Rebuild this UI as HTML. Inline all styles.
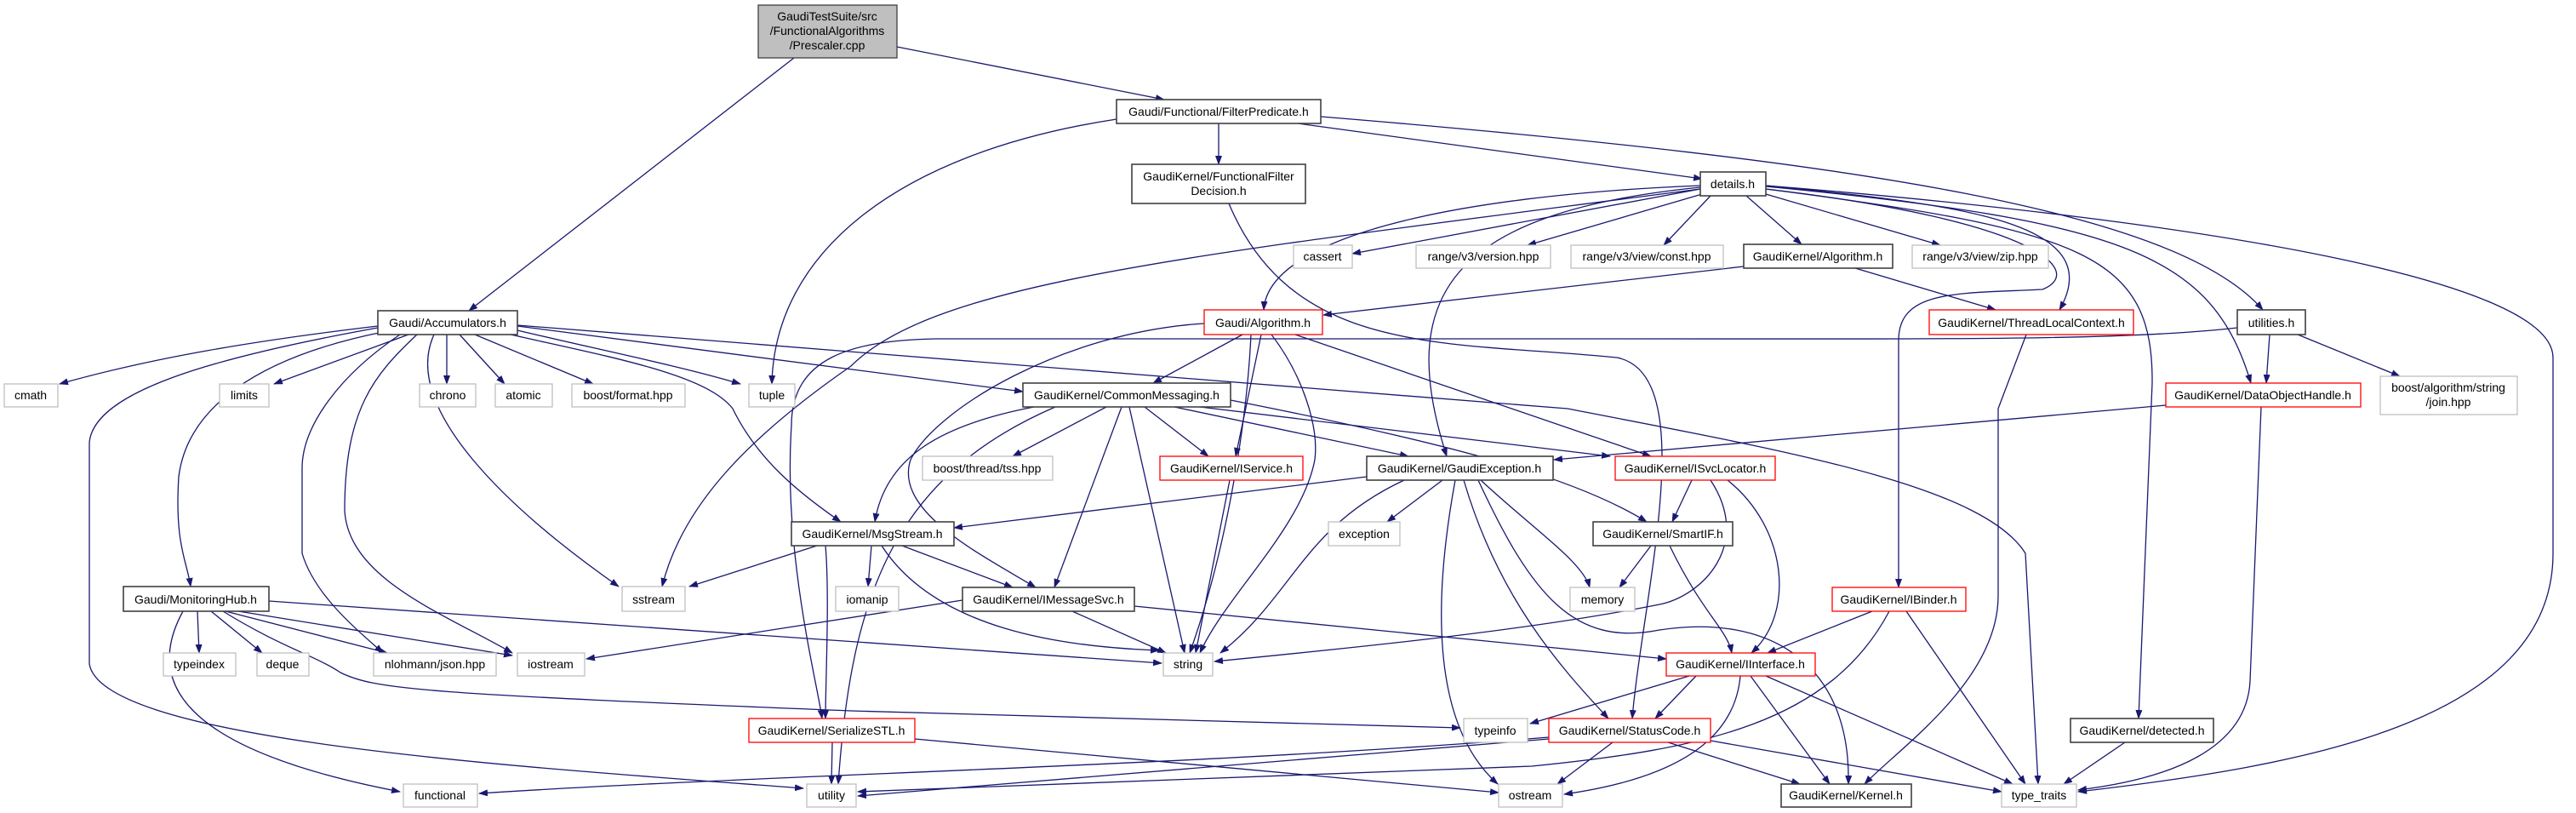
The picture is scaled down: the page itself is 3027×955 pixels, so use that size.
<!DOCTYPE html>
<html><head><meta charset="utf-8"><style>
html,body{margin:0;padding:0;background:#fff;}
svg{display:block;}
text{font-family:"Liberation Sans",sans-serif;font-size:14px;fill:#000;text-anchor:middle;}
.e{fill:none;stroke:#191970;stroke-width:1.3;marker-end:url(#a);}
.k{fill:#fff;stroke:#404040;stroke-width:1.6;}
.g{fill:#fff;stroke:#bfbfbf;stroke-width:1.3;}
.r{fill:#fff;stroke:#ff0000;stroke-width:1.3;}
</style></head><body>
<svg width="3027" height="955" viewBox="0 0 3027 955" xmlns="http://www.w3.org/2000/svg">
<defs><marker id="a" markerWidth="11" markerHeight="8" refX="10" refY="4" orient="auto" markerUnits="userSpaceOnUse"><path d="M0,0 L11,4 L0,8 z" fill="#191970"/></marker></defs>
<g>
<path class="e" d="M933,68 L551,365"/>
<path class="e" d="M1054,55 L1368,117"/>
<path class="e" d="M1432,145 L1432,193"/>
<path class="e" d="M1525,145 L2000,210"/>
<path class="e" d="M1552,137 C2200,190 2560,250 2659,364"/>
<path class="e" d="M1312,140 C1050,180 910,300 907,451"/>
<path class="e" d="M1444,239 C1520,420 1700,400 1900,420 C2000,440 1930,700 1918,844"/>
<path class="e" d="M1998,222 L1589,298"/>
<path class="e" d="M2000,228 L1795,288"/>
<path class="e" d="M2010,230 L1955,288"/>
<path class="e" d="M2052,230 L2117,287"/>
<path class="e" d="M2075,228 L2280,288"/>
<path class="e" d="M2075,218 C2300,240 2480,260 2420,364"/>
<path class="e" d="M1998,218 C1700,230 1490,280 1485,364"/>
<path class="e" d="M1998,220 C1700,250 1640,350 1700,536"/>
<path class="e" d="M1998,222 C1400,300 1100,330 1000,430 C870,520 800,600 778,689"/>
<path class="e" d="M2075,222 C2400,260 2450,320 2400,340 C2300,345 2231,340 2231,400 L2231,690"/>
<path class="e" d="M2075,222 C2450,270 2530,300 2529,450 L2513,844"/>
<path class="e" d="M2075,219 C2500,260 2600,300 2645,450"/>
<path class="e" d="M2075,218 C2600,260 3000,330 3000,420 L3000,650 C3000,850 2700,900 2442,930"/>
<path class="e" d="M2381,393 L2348,480 L2348,700 C2348,800 2230,880 2191,921"/>
<path class="e" d="M2049,313 L1555,370"/>
<path class="e" d="M2180,315 L2345,364"/>
<path class="e" d="M1460,393 L1355,450"/>
<path class="e" d="M1482,393 L1452,536"/>
<path class="e" d="M1470,393 C1465,500 1440,650 1398,767"/>
<path class="e" d="M1494,393 C1530,440 1550,500 1545,540 C1530,620 1440,700 1410,767"/>
<path class="e" d="M1415,380 C1250,390 1100,480 1070,540 C1050,600 1150,650 1217,690"/>
<path class="e" d="M1522,393 L1940,536"/>
<path class="e" d="M2629,385 C2500,400 2300,398 1900,398 L1100,398 C1000,400 930,420 930,500 C920,650 960,800 966,844"/>
<path class="e" d="M2667,393 L2663,450"/>
<path class="e" d="M2700,393 L2820,442"/>
<path class="e" d="M2545,476 L1826,540"/>
<path class="e" d="M2657,478 L2644,800 C2640,880 2550,915 2442,928"/>
<path class="e" d="M444,383 C300,400 180,420 70,451"/>
<path class="e" d="M480,393 L322,451"/>
<path class="e" d="M525,393 L525,451"/>
<path class="e" d="M540,393 L593,451"/>
<path class="e" d="M558,393 L697,451"/>
<path class="e" d="M608,388 C700,410 800,430 870,451"/>
<path class="e" d="M450,390 C300,420 220,480 210,560 C205,640 220,660 224,689"/>
<path class="e" d="M444,385 C250,420 110,460 105,520 L105,780 C120,870 600,900 944,926"/>
<path class="e" d="M470,393 C400,440 355,500 355,550 L355,650 C370,700 420,740 450,767"/>
<path class="e" d="M490,393 C440,440 405,480 405,600 C410,680 520,720 602,767"/>
<path class="e" d="M510,393 C470,480 600,600 727,689"/>
<path class="e" d="M608,383 L1202,460"/>
<path class="e" d="M600,393 C720,420 830,440 861,480 C890,540 940,580 988,613"/>
<path class="e" d="M608,382 L1842,480 C2100,530 2330,570 2380,650 L2395,921"/>
<path class="e" d="M1300,478 L1190,536"/>
<path class="e" d="M1345,478 L1420,536"/>
<path class="e" d="M1380,478 L1655,536"/>
<path class="e" d="M1410,478 L1892,536"/>
<path class="e" d="M1446,470 C1700,520 1850,560 1935,613"/>
<path class="e" d="M1215,478 C1100,500 1040,540 1028,613"/>
<path class="e" d="M1318,478 L1239,690"/>
<path class="e" d="M1327,478 L1392,767"/>
<path class="e" d="M1240,478 C1050,560 1000,700 985,921"/>
<path class="e" d="M1606,560 L1121,620"/>
<path class="e" d="M1695,564 L1630,613"/>
<path class="e" d="M1650,564 C1530,620 1520,700 1434,767"/>
<path class="e" d="M1740,564 C1800,620 1860,660 1868,690"/>
<path class="e" d="M1710,564 C1685,700 1680,850 1760,921"/>
<path class="e" d="M1720,564 C1760,700 1830,780 1890,844"/>
<path class="e" d="M1737,564 C1800,700 1850,760 1950,740 C2080,720 2175,780 2172,921"/>
<path class="e" d="M1988,564 L1965,613"/>
<path class="e" d="M2030,564 C2100,620 2110,720 2058,767"/>
<path class="e" d="M2010,564 C2060,640 2000,700 1950,710 C1800,740 1600,760 1427,777"/>
<path class="e" d="M1940,641 L1903,690"/>
<path class="e" d="M1962,641 C2000,720 2030,740 2035,767"/>
<path class="e" d="M1131,705 L689,774"/>
<path class="e" d="M1260,718 L1370,767"/>
<path class="e" d="M1333,712 L1958,774"/>
<path class="e" d="M960,641 L810,689"/>
<path class="e" d="M1024,641 L1020,689"/>
<path class="e" d="M1060,641 L1190,690"/>
<path class="e" d="M1036,641 C1100,740 1250,760 1362,764"/>
<path class="e" d="M970,641 C975,700 970,800 970,844"/>
<path class="e" d="M232,718 L234,767"/>
<path class="e" d="M248,718 L308,767"/>
<path class="e" d="M265,718 L455,767"/>
<path class="e" d="M280,718 L602,770"/>
<path class="e" d="M316,706 L1365,779"/>
<path class="e" d="M215,718 C170,800 210,880 470,930"/>
<path class="e" d="M262,718 C330,760 370,770 400,790 C440,810 500,815 1000,835 L1716,855"/>
<path class="e" d="M2200,718 L2077,767"/>
<path class="e" d="M2240,718 L2380,921"/>
<path class="e" d="M2220,718 C2150,850 2000,880 1800,900 L1008,930"/>
<path class="e" d="M1985,794 L1798,850"/>
<path class="e" d="M1993,794 L1945,844"/>
<path class="e" d="M2045,794 C2040,850 2000,910 1838,933"/>
<path class="e" d="M2057,794 L2150,921"/>
<path class="e" d="M2075,794 L2365,921"/>
<path class="e" d="M1820,868 L1008,935"/>
<path class="e" d="M1820,866 C1400,900 900,910 563,932"/>
<path class="e" d="M1895,872 L1830,921"/>
<path class="e" d="M1960,872 L2115,921"/>
<path class="e" d="M2010,870 L2352,930"/>
<path class="e" d="M978,872 L977,921"/>
<path class="e" d="M1075,868 L1761,931"/>
<path class="e" d="M2497,872 L2425,921"/>
<path class="e" d="M1445,564 L1405,767"/>
</g>
<g>
<rect x="891" y="6" width="163" height="62" fill="#bfbfbf" stroke="#404040" stroke-width="1.3"/>
<text x="972" y="24">GaudiTestSuite/src</text><text x="972" y="41">/FunctionalAlgorithms</text><text x="972" y="58">/Prescaler.cpp</text>
<rect class="k" x="1312" y="117" width="240" height="28"/><text x="1432" y="136">Gaudi/Functional/FilterPredicate.h</text>
<rect class="k" x="1330" y="193" width="204" height="46"/><text x="1432" y="212">GaudiKernel/FunctionalFilter</text><text x="1432" y="229">Decision.h</text>
<rect class="k" x="1998" y="202" width="77" height="28"/><text x="2036" y="221">details.h</text>
<rect class="g" x="1520" y="288" width="69" height="27"/><text x="1554" y="306">cassert</text>
<rect class="g" x="1664" y="288" width="158" height="27"/><text x="1743" y="306">range/v3/version.hpp</text>
<rect class="g" x="1846" y="288" width="179" height="27"/><text x="1935" y="306">range/v3/view/const.hpp</text>
<rect class="k" x="2049" y="287" width="175" height="28"/><text x="2136" y="306">GaudiKernel/Algorithm.h</text>
<rect class="g" x="2247" y="288" width="160" height="27"/><text x="2327" y="306">range/v3/view/zip.hpp</text>
<rect class="k" x="444" y="365" width="164" height="28"/><text x="526" y="384">Gaudi/Accumulators.h</text>
<rect class="r" x="1415" y="364" width="139" height="29"/><text x="1484" y="384">Gaudi/Algorithm.h</text>
<rect class="r" x="2267" y="364" width="240" height="29"/><text x="2387" y="384">GaudiKernel/ThreadLocalContext.h</text>
<rect class="k" x="2629" y="364" width="80" height="29"/><text x="2669" y="384">utilities.h</text>
<rect class="g" x="5" y="451" width="63" height="27"/><text x="36" y="469">cmath</text>
<rect class="g" x="258" y="451" width="58" height="27"/><text x="287" y="469">limits</text>
<rect class="g" x="493" y="451" width="66" height="27"/><text x="526" y="469">chrono</text>
<rect class="g" x="582" y="451" width="67" height="27"/><text x="615" y="469">atomic</text>
<rect class="g" x="672" y="451" width="133" height="27"/><text x="738" y="469">boost/format.hpp</text>
<rect class="g" x="880" y="451" width="54" height="27"/><text x="907" y="469">tuple</text>
<rect class="k" x="1202" y="450" width="244" height="28"/><text x="1324" y="469">GaudiKernel/CommonMessaging.h</text>
<rect class="r" x="2545" y="450" width="229" height="28"/><text x="2659" y="469">GaudiKernel/DataObjectHandle.h</text>
<rect class="g" x="2797" y="442" width="161" height="45"/><text x="2877" y="460">boost/algorithm/string</text><text x="2877" y="477">/join.hpp</text>
<rect class="g" x="1084" y="536" width="153" height="28"/><text x="1160" y="555">boost/thread/tss.hpp</text>
<rect class="r" x="1363" y="536" width="168" height="28"/><text x="1447" y="555">GaudiKernel/IService.h</text>
<rect class="k" x="1606" y="536" width="219" height="28"/><text x="1715" y="555">GaudiKernel/GaudiException.h</text>
<rect class="r" x="1898" y="536" width="188" height="28"/><text x="1992" y="555">GaudiKernel/ISvcLocator.h</text>
<rect class="k" x="930" y="613" width="191" height="28"/><text x="1025" y="632">GaudiKernel/MsgStream.h</text>
<rect class="g" x="1561" y="613" width="84" height="28"/><text x="1603" y="632">exception</text>
<rect class="k" x="1872" y="613" width="164" height="28"/><text x="1954" y="632">GaudiKernel/SmartIF.h</text>
<rect class="k" x="145" y="689" width="171" height="29"/><text x="230" y="709">Gaudi/MonitoringHub.h</text>
<rect class="g" x="731" y="689" width="74" height="29"/><text x="768" y="709">sstream</text>
<rect class="g" x="982" y="689" width="74" height="29"/><text x="1019" y="709">iomanip</text>
<rect class="k" x="1131" y="690" width="202" height="28"/><text x="1232" y="709">GaudiKernel/IMessageSvc.h</text>
<rect class="g" x="1845" y="690" width="76" height="28"/><text x="1883" y="709">memory</text>
<rect class="r" x="2153" y="690" width="157" height="28"/><text x="2231" y="709">GaudiKernel/IBinder.h</text>
<rect class="g" x="192" y="767" width="85" height="27"/><text x="234" y="785">typeindex</text>
<rect class="g" x="302" y="767" width="61" height="27"/><text x="332" y="785">deque</text>
<rect class="g" x="439" y="767" width="144" height="27"/><text x="511" y="785">nlohmann/json.hpp</text>
<rect class="g" x="608" y="767" width="79" height="27"/><text x="647" y="785">iostream</text>
<rect class="g" x="1367" y="767" width="58" height="27"/><text x="1396" y="785">string</text>
<rect class="r" x="1958" y="767" width="175" height="27"/><text x="2045" y="785">GaudiKernel/IInterface.h</text>
<rect class="r" x="880" y="844" width="195" height="28"/><text x="977" y="863">GaudiKernel/SerializeSTL.h</text>
<rect class="g" x="1720" y="844" width="75" height="28"/><text x="1757" y="863">typeinfo</text>
<rect class="r" x="1820" y="844" width="190" height="28"/><text x="1915" y="863">GaudiKernel/StatusCode.h</text>
<rect class="k" x="2433" y="844" width="168" height="28"/><text x="2517" y="863">GaudiKernel/detected.h</text>
<rect class="g" x="474" y="921" width="87" height="27"/><text x="517" y="939">functional</text>
<rect class="g" x="948" y="921" width="58" height="27"/><text x="977" y="939">utility</text>
<rect class="g" x="1761" y="921" width="75" height="27"/><text x="1798" y="939">ostream</text>
<rect class="k" x="2093" y="921" width="153" height="27"/><text x="2169" y="939">GaudiKernel/Kernel.h</text>
<rect class="g" x="2352" y="921" width="88" height="27"/><text x="2396" y="939">type_traits</text>
</g>
</svg>
</body></html>
